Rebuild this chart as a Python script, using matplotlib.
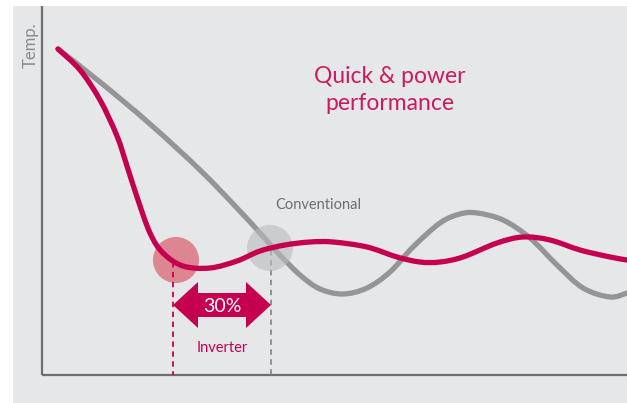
import numpy as np
import matplotlib
matplotlib.use("Agg")
import matplotlib.pyplot as plt
from matplotlib.path import Path
from matplotlib.patches import PathPatch, Circle, Polygon, Rectangle

# curve points (pixel space, y grows downwards)
inverter_x = [58, 80, 100, 117, 127, 137, 150, 163, 183, 210, 237, 260, 285, 310,
              333, 367, 397, 420, 440, 463, 497, 523, 550, 580, 610, 627]
inverter_y = [49, 70, 100, 136, 166, 197, 233, 253, 266, 268, 261, 251, 245, 242,
              242, 247, 257, 262, 262, 257, 243, 237, 240, 250, 257, 260]

conventional_x = [58, 100, 150, 200, 237, 260, 277, 300, 320, 343, 367, 390, 413,
                  440, 460, 477, 503, 530, 557, 583, 610, 627]
conventional_y = [49, 82, 124, 170, 208, 233, 252, 275, 289, 294, 288, 272, 247,
                  223, 214, 213, 220, 238, 265, 288, 297, 293]

inverter_hit = 173       # where inverter reaches set temp
conventional_hit = 271   # where conventional reaches set temp
saving_label = "30%"

RED = "#c4004f"
GREY = "#939598"
AXIS = "#6d6e71"
BG = "#e6e7e9"


def smooth_path(xs, ys):
    # catmull-rom through the read points, drawn as cubic beziers
    pts = np.column_stack([xs, ys]).astype(float)
    verts = [pts[0]]
    codes = [Path.MOVETO]
    for i in range(len(pts) - 1):
        p0 = pts[i - 1] if i > 0 else pts[i]
        p3 = pts[i + 2] if i + 2 < len(pts) else pts[i + 1]
        c1 = pts[i] + (pts[i + 1] - p0) / 6
        c2 = pts[i + 1] - (p3 - pts[i]) / 6
        verts += [c1, c2, pts[i + 1]]
        codes += [Path.CURVE4] * 3
    return Path(verts, codes)


fig = plt.figure(figsize=(6.27, 4.03), dpi=100)
ax = fig.add_axes([0, 0, 1, 1])
ax.set_xlim(0, 627)
ax.set_ylim(403, 0)
ax.axis("off")

ax.add_patch(Rectangle((13, 6), 614, 397, facecolor=BG, edgecolor="none", zorder=0))

# axes
ax.plot([42, 42], [6, 375], color=AXIS, lw=1.6, zorder=2, solid_capstyle="butt")
ax.plot([42, 627], [375, 375], color=AXIS, lw=1.6, zorder=2, solid_capstyle="butt")
ax.text(31, 45, "Temp.", rotation=90, ha="center", va="center", fontsize=12,
        color="#8a8b8d", family="Lato")

# highlight circles
ax.add_patch(Circle((176, 260), 23, facecolor="#dd8591", edgecolor="none", zorder=3))

# curves
ax.add_patch(PathPatch(smooth_path(conventional_x, conventional_y), facecolor="none",
                       edgecolor=GREY, lw=3.8, capstyle="round", zorder=4))
ax.add_patch(Circle((270, 248), 23, facecolor="#b9babc", alpha=0.6, edgecolor="none", zorder=4.5))
ax.add_patch(PathPatch(smooth_path(inverter_x, inverter_y), facecolor="none",
                       edgecolor=RED, lw=3.8, capstyle="round", zorder=5))

# dashed guides
ax.plot([inverter_hit, inverter_hit], [262, 375], color=RED, lw=1.3,
        ls=(0, (3, 2.5)), zorder=3)
ax.plot([conventional_hit, conventional_hit], [250, 375], color="#8a8b8d", lw=1.3,
        ls=(0, (3, 2.5)), zorder=3)

# double arrow
yc, body, head, hl = 305, 12, 23, 25
x0, x1 = inverter_hit, conventional_hit
arrow = [(x0, yc), (x0 + hl, yc - head), (x0 + hl, yc - body), (x1 - hl, yc - body),
         (x1 - hl, yc - head), (x1, yc), (x1 - hl, yc + head), (x1 - hl, yc + body),
         (x0 + hl, yc + body), (x0 + hl, yc + head)]
ax.add_patch(Polygon(arrow, closed=True, facecolor=RED, edgecolor="none", zorder=6))
ax.text((x0 + x1) / 2, yc + 1, saving_label, ha="center", va="center", fontsize=14,
        color="white", family="Lato", zorder=7)

ax.text(222, 348, "Inverter", ha="center", va="center", fontsize=10.5, color=RED,
        family="Lato")
ax.text(318, 205, "Conventional", ha="center", va="center", fontsize=10.5,
        color="#6d6e71", family="Lato")
ax.text(390, 90, "Quick & power\nperformance", ha="center", va="center",
        fontsize=16.5, color="#cc1a5e", family="Lato", linespacing=1.4)

fig.savefig("out.png", dpi=100)
